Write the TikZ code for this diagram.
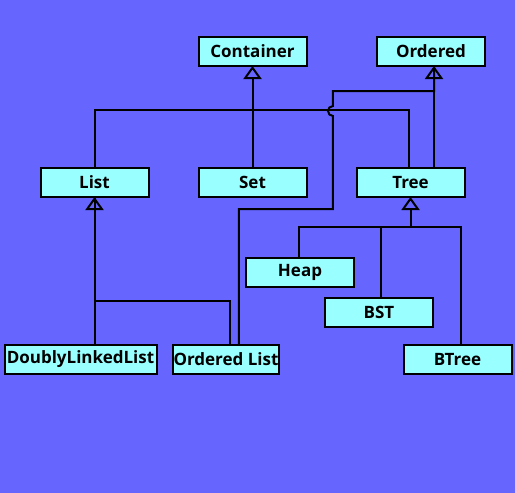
\documentclass[tikz,border=0pt]{standalone}
\usepackage{fontspec}
\setmainfont{Open Sans}
\usepackage{xcolor}
\usepackage{tikz}
\usetikzlibrary{arrows.meta, positioning}
\definecolor{bgblue}{HTML}{6666FF}
\definecolor{boxcyan}{HTML}{99FFFF}

\begin{document}
\begin{tikzpicture}[x=1pt, y=-1pt, line width=2pt,
    every node/.style={font=\bfseries\fontsize{17}{20}\selectfont},
    cls/.style={draw, fill=boxcyan, outer sep=0pt, inner xsep=1pt, minimum width=108pt, minimum height=29pt},
    isa/.style={-{Triangle[open, width=18pt, length=13pt]}}]
        % Background
        \fill[bgblue] (0,0) rectangle (515,493);
        \useasboundingbox (0,0) rectangle (515,493);
        % Top classes
        \node[cls] (container) at (252.5,51.5) {Container};
        \node[cls] (ordered) at (431,51.5) {Ordered};
        % Middle row
        \node[cls, below=102pt of container] (set) {Set};
        \node[cls, left=50pt of set] (list) {List};
        \node[cls, below=102pt of ordered, xshift=-20.5pt] (tree) {Tree};
        % Tree kinds
        \node[cls, below=61pt of tree, xshift=-110.5pt] (heap) {Heap};
        \node[cls, below=101pt of tree, xshift=-31.5pt] (bst) {BST};
        \node[cls, below=148pt of tree, xshift=47pt] (btree) {BTree};
        % List kinds
        \node[cls, minimum width=152pt, below=148pt of list, xshift=-14pt] (dll) {DoublyLinkedList};
        \node[cls, minimum width=106pt, right=16pt of dll] (olist) {Ordered List};
        % Links
        \draw[isa] (set.north) -- (container.south);
        \draw[isa] ([xshift=23.5pt]tree.north) -- ([xshift=3pt]ordered.south);
        \draw (list.north) -- ++(0,-58) -| ([xshift=-1.5pt]tree.north);
        \draw ([xshift=13pt]olist.north) -- ++(0,-136) -- ++(94,0) -- ++(0,-93)
            arc[start angle=270, end angle=90, radius=5pt] -- ++(0,-15) -| ([xshift=3pt]ordered.south);
        \draw[isa] ([xshift=14pt]dll.north) -- (list.south);
        \draw ([xshift=4pt]olist.north) -- ++(0,-44) -| (list.south);
        \coordinate (tjoin) at ([yshift=-30pt]tree.south);
        \draw[isa] (tjoin) -- (tree.south);
        \foreach \k/\dx in {heap/-1, bst/2, btree/3} {
            \draw ([xshift=\dx pt]\k.north) |- (tjoin);
        }
    \end{tikzpicture}
\end{document}
